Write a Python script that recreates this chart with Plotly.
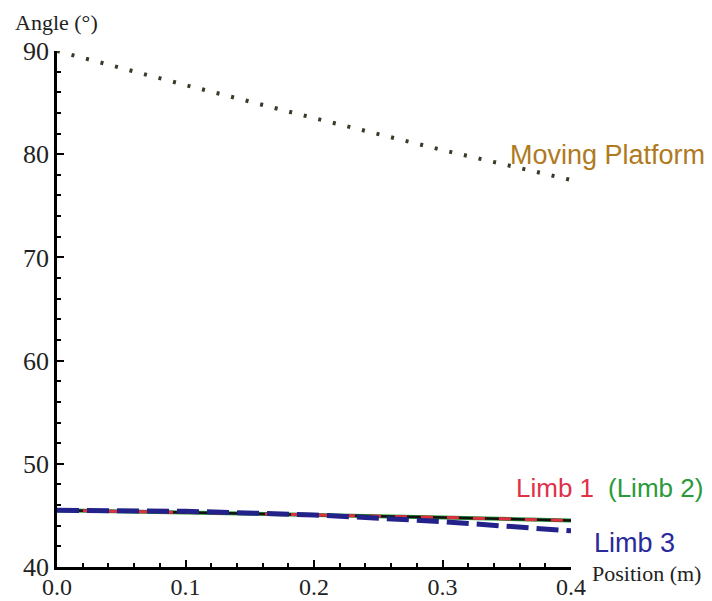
import plotly.graph_objects as go

position = [0.0, 0.1, 0.2, 0.3, 0.4]
moving_platform = [90.0, 86.7, 83.5, 80.4, 77.5]
limb1 = [45.5, 45.3, 45.05, 44.8, 44.5]
limb2 = [45.5, 45.3, 45.05, 44.8, 44.5]
limb3 = [45.5, 45.4, 45.05, 44.4, 43.5]

x_ticks = [0.0, 0.1, 0.2, 0.3, 0.4]
x_ticklabels = ["0.0", "0.1", "0.2", "0.3", "0.4"]
y_ticks = [40, 50, 60, 70, 80, 90]

fig = go.Figure()
fig.add_trace(go.Scatter(x=position, y=moving_platform, mode="lines", name="Moving Platform",
                         line=dict(color="#3a3a2a", width=4, dash="3px,12px"), cliponaxis=False))
fig.add_trace(go.Scatter(x=position, y=limb2, mode="lines", name="Limb 2",
                         line=dict(color="#2a9a3a", width=4), cliponaxis=False))
fig.add_trace(go.Scatter(x=position, y=limb1, mode="lines", name="Limb 1 base",
                         line=dict(color="#111111", width=2.5), cliponaxis=False))
fig.add_trace(go.Scatter(x=position, y=limb1, mode="lines", name="Limb 1",
                         line=dict(color="#e03040", width=3, dash="12px,14px"), cliponaxis=False))
fig.add_trace(go.Scatter(x=position, y=limb3, mode="lines", name="Limb 3",
                         line=dict(color="#22228a", width=5, dash="22px,8px"), cliponaxis=False))

serif = "Liberation Serif"
sans = "Liberation Sans"

def ann(text, x, y, font, anchor="left"):
    return dict(text=text, xref="paper", yref="paper", x=x, y=y,
                xanchor=anchor, yanchor="middle", showarrow=False, font=font)

# page body has an 8px margin, so the figure is sized to fit the 712x601 window
fig.update_layout(
    width=704, height=593,
    margin=dict(l=49, r=141, t=43, b=34),
    plot_bgcolor="white", paper_bgcolor="white",
    showlegend=False,
    xaxis=dict(range=[0, 0.4], tickvals=x_ticks, ticktext=x_ticklabels, automargin=False,
               ticks="inside", ticklen=7, tickwidth=2, tickcolor="black",
               ticklabelstandoff=-4,
               showline=True, linecolor="black", linewidth=2.5, showgrid=False, zeroline=False,
               tickfont=dict(family=serif, size=24, color="#222"),
               minor=dict(ticks="inside", ticklen=4, tickwidth=1.5, tickcolor="black", dtick=0.02)),
    yaxis=dict(range=[40, 90], tickvals=y_ticks, automargin=False,
               ticks="inside", ticklen=7, tickwidth=2, tickcolor="black",
               showline=True, linecolor="black", linewidth=2.5, showgrid=False, zeroline=False,
               tickfont=dict(family=serif, size=26, color="#222"),
               minor=dict(ticks="inside", ticklen=4, tickwidth=1.5, tickcolor="black", dtick=2)),
    annotations=[
        ann("Angle (°)", -0.086, 1.056, dict(family=serif, size=22, color="#222")),
        ann("Position (m)", 1.036, -0.012, dict(family=serif, size=22, color="#222")),
        ann("Moving Platform", 0.878, 0.798, dict(family=sans, size=27, color="#b07a20")),
        ann("Limb 1", 0.89, 0.153, dict(family=sans, size=26, color="#e0304a")),
        ann("(Limb 2)", 1.068, 0.153, dict(family=sans, size=26, color="#2a9a3a")),
        ann("Limb 3", 1.04, 0.047, dict(family=sans, size=27, color="#2a2a9a")),
    ],
)

fig.write_html("out.html")
